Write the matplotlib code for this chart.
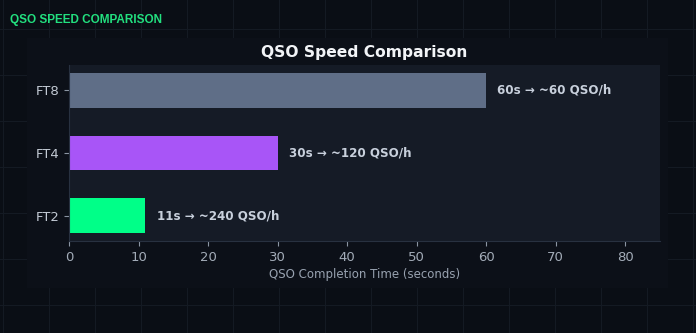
import matplotlib.pyplot as plt
from matplotlib.lines import Line2D
from matplotlib.patches import Rectangle

modes = ['FT2', 'FT4', 'FT8']
qso_time = [11, 30, 60]
qso_rate = [240, 120, 60]
colors = ['#00ff88', '#a855f7', '#5f6e87']

W, H = 696, 333
fig = plt.figure(figsize=(W / 100, H / 100), dpi=100)
fig.patch.set_facecolor('#0a0e15')

# page grid behind the chart image
for x in range(3, W, 46):
    fig.add_artist(Line2D([x / W, x / W], [0, 1], color='#141a23', lw=0.8, zorder=-2))
for y in range(29, H, 46):
    fig.add_artist(Line2D([0, 1], [1 - y / H, 1 - y / H], color='#141a23', lw=0.8, zorder=-2))
fig.add_artist(Rectangle((27 / W, 1 - 288 / H), (668 - 27) / W, (288 - 38) / H,
                         transform=fig.transFigure, facecolor='#0c1018',
                         edgecolor='none', zorder=-1))

fig.text(10 / W, 1 - 20 / H, 'QSO SPEED COMPARISON', color='#22e07f',
         fontsize=8.5, fontweight='bold', family='Liberation Sans', va='center')

ax = fig.add_axes([69 / W, 1 - 241 / H, (660 - 69) / W, (241 - 65) / H])
ax.set_facecolor('#151b26')
ax.barh(modes, qso_time, height=0.55, color=colors, zorder=2)
for i, (t, r) in enumerate(zip(qso_time, qso_rate)):
    ax.text(t + 1.6, i, f'{t}s → ~{r} QSO/h', color='#c8d0dc', fontsize=8.6,
            fontweight='bold', va='center')

ax.set_xlim(0, 85)
ax.set_xticks(range(0, 81, 10))
ax.set_title('QSO Speed Comparison', color='#f2f4f7', fontsize=11.2,
             fontweight='bold', pad=6)
ax.set_xlabel('QSO Completion Time (seconds)', color='#98a2b0', fontsize=8.5,
              labelpad=3)
ax.tick_params(axis='x', colors='#8b95a3', labelcolor='#a3acb8', labelsize=9.5)
ax.tick_params(axis='y', colors='#8b95a3', labelcolor='#c3cad4', labelsize=9.5)
for s in ['top', 'right']:
    ax.spines[s].set_visible(False)
for s in ['left', 'bottom']:
    ax.spines[s].set_color('#283140')

fig.savefig('out.png', dpi=100, facecolor=fig.get_facecolor())
